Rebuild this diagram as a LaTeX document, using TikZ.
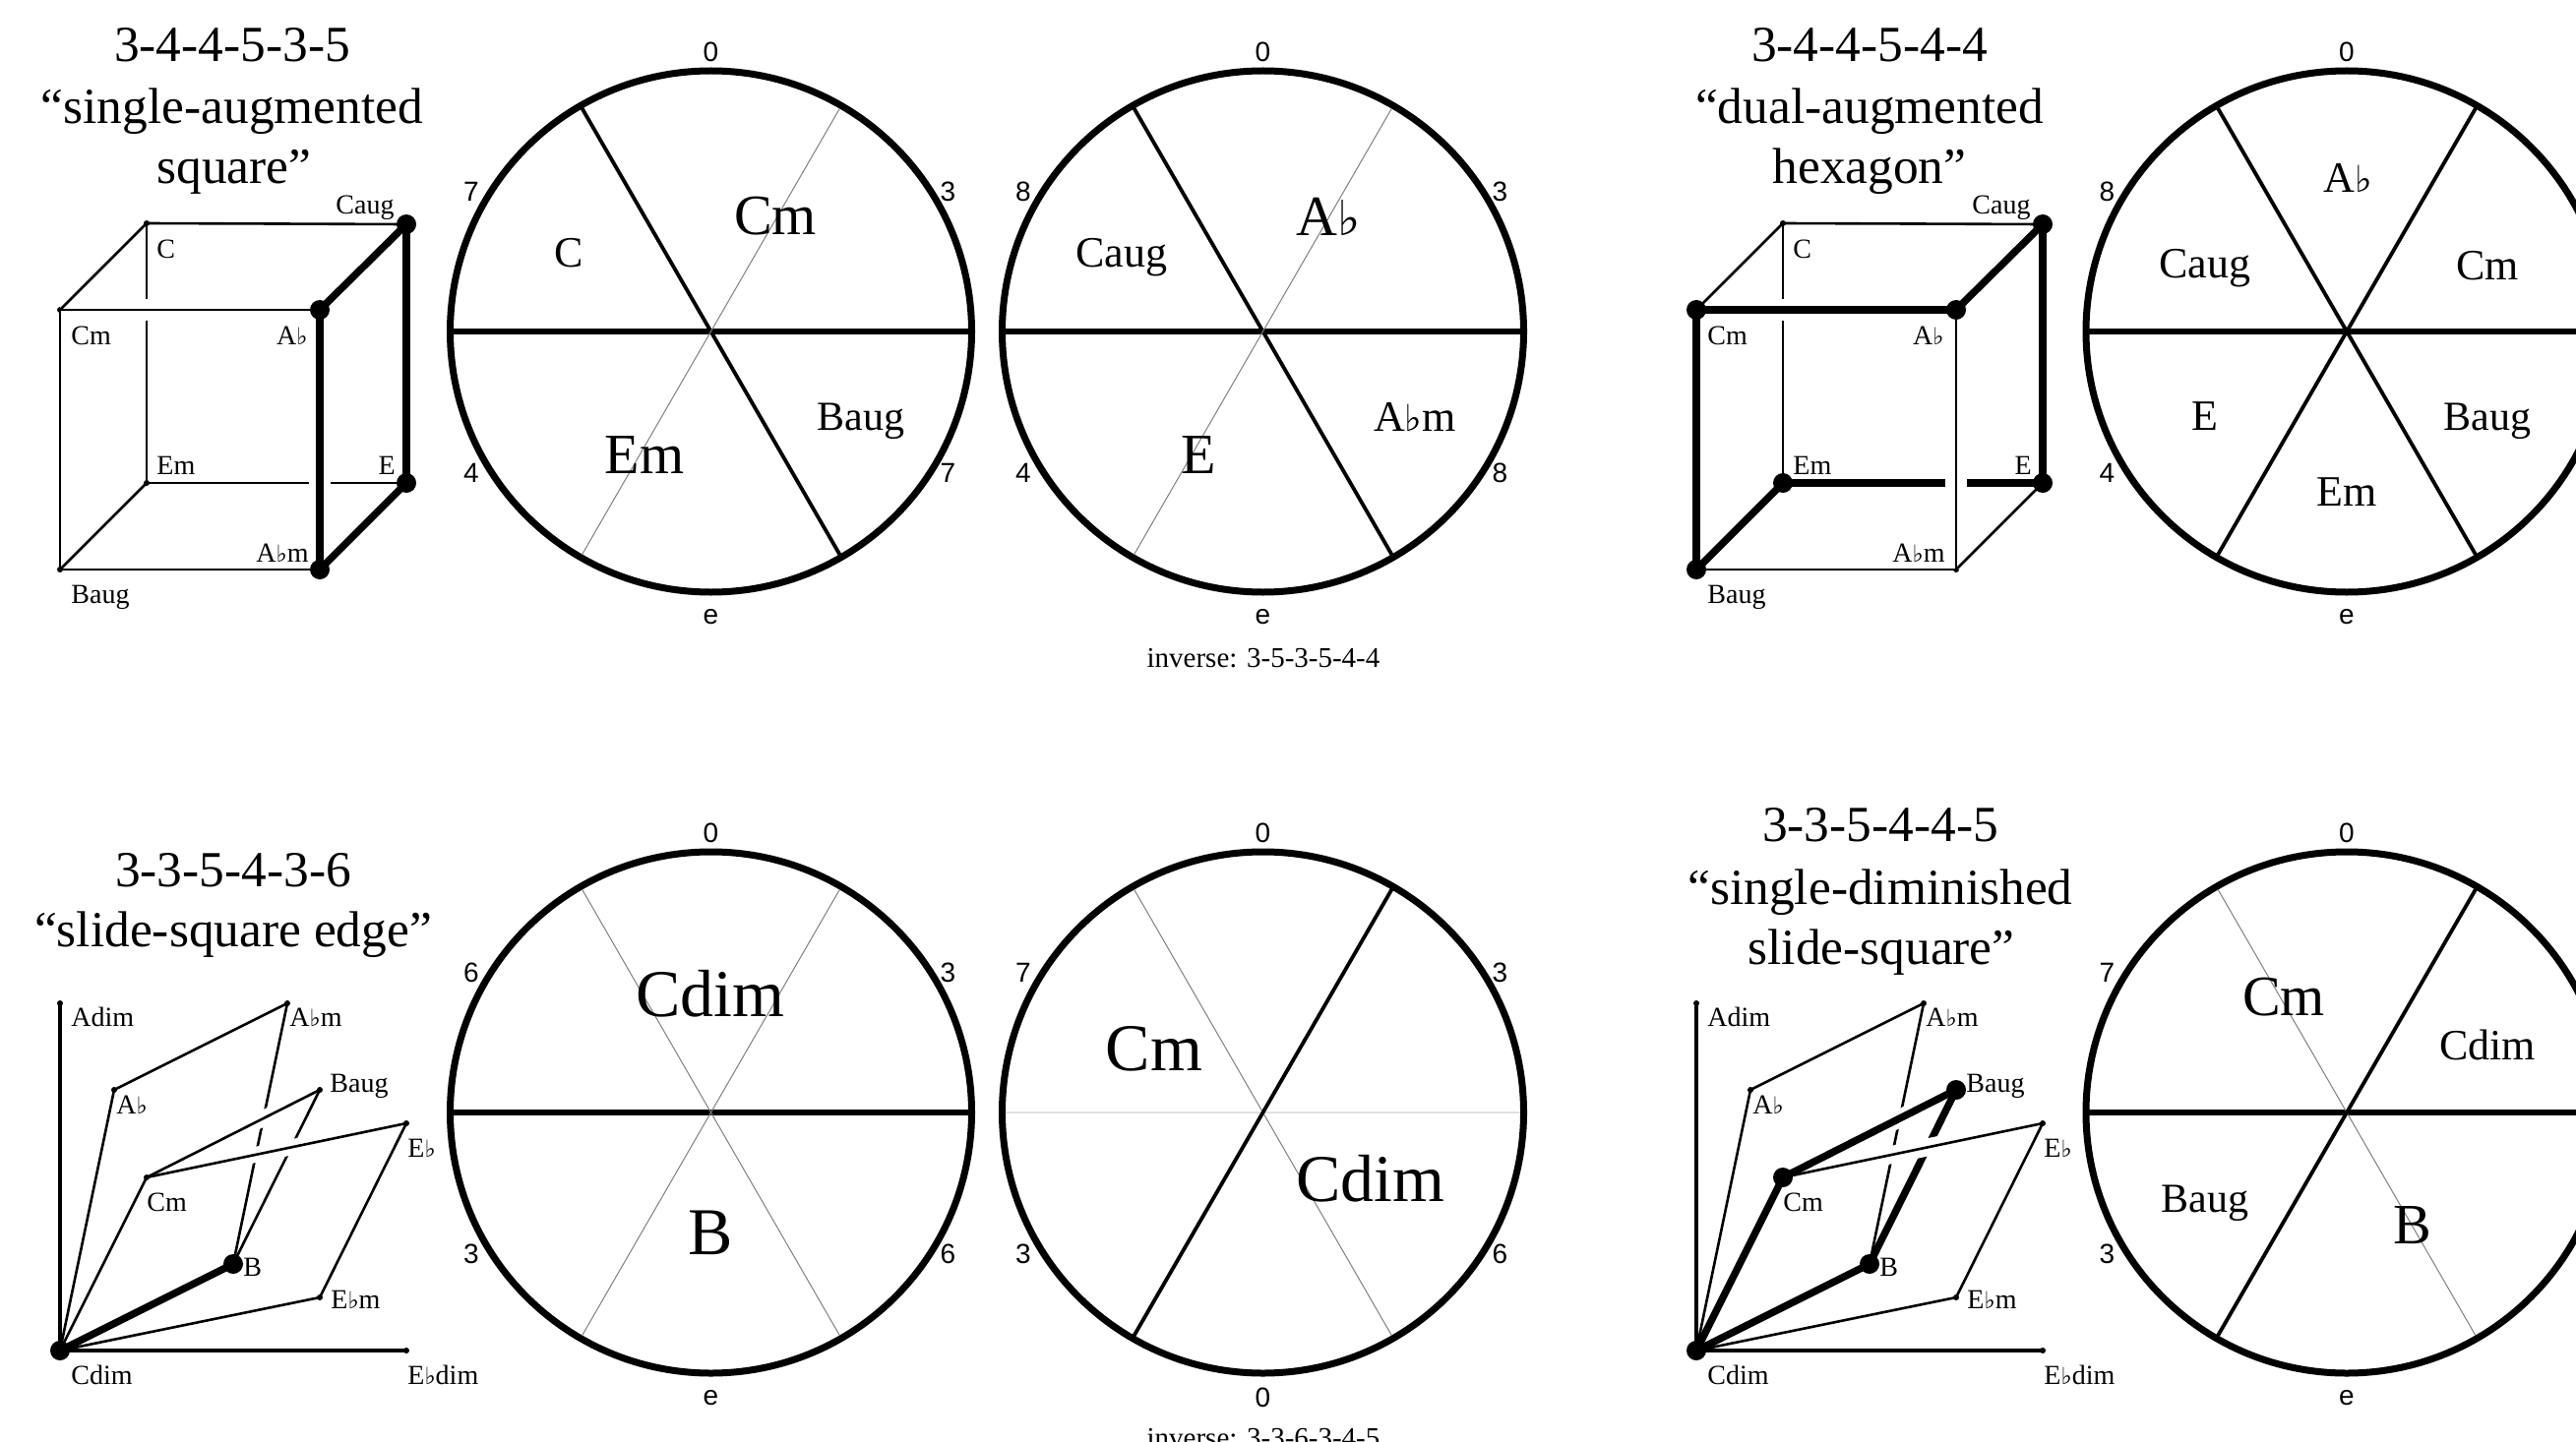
\documentclass[tikz,border=0pt]{standalone}
\usepackage{fontspec}
\setmainfont{Liberation Serif}
\newfontfamily\numf{Liberation Sans}
\newfontfamily\flatf[Scale=0.85]{DejaVu Sans}
\newcommand{\fl}{{\flatf ♭}}
\newcommand{\fsz}[1]{\fontsize{#1}{#1}\selectfont}
\tikzset{
  ringnode/.style={circle,draw=black,line width=3.5pt,minimum size=265pt,inner sep=0pt,outer sep=0pt},
  hair/.style={draw=black!50,line width=0.5pt,shorten <=1.7pt,shorten >=1.7pt},
  pale/.style={draw=black!12,line width=1pt,shorten <=1.7pt,shorten >=1.7pt},
  medchord/.style={draw=black,line width=1.9pt},
  bigchord/.style={draw=black,line width=3pt},
  numlab/.style={font=\numf\fsz{14},inner sep=0pt},
  chS/.style={font=\fsz{22},inner sep=0pt},
  chB/.style={font=\fsz{21},inner sep=0pt},
  chM/.style={font=\fsz{29},inner sep=0pt},
  chL/.style={font=\fsz{34},inner sep=0pt},
  ttl/.style={font=\fsz{25.7},inner sep=0pt,anchor=base,yshift=-0.75pt},
  invlab/.style={font=\fsz{14.5},inner sep=0pt,anchor=base},
  vlabW/.style={font=\fsz{14},inner sep=0pt,anchor=base west,yshift=-0.6pt},
  vlabE/.style={font=\fsz{14},inner sep=0pt,anchor=base east,yshift=-0.6pt},
  smalldot/.style={circle,fill=black,minimum size=3pt,inner sep=0pt,outer sep=0pt},
  bigdot/.style={circle,fill=black,minimum size=10pt,inner sep=0pt,outer sep=0pt},
  thinedge/.style={draw=black,line width=1.3pt},
  midedge/.style={draw=black,line width=1.9pt},
  heavyedge/.style={draw=black,line width=3.7pt},
  halo/.style={draw=white,line width=#1},
}
% ring labels
\newcommand{\ticksL}[5]{%
  \node[numlab] (#1-t) at ([shift={(0,-284)}]#1.center) {#2};
  \node[numlab] (#1-lt) at ([shift={(-243.5,-142)}]#1.center) {#3};
  \node[numlab] (#1-lb) at ([shift={(-243.5,144)}]#1.center) {#4};
  \node[numlab] (#1-b) at ([shift={(0,290)}]#1.center) {#5};
}
\newcommand{\ticksR}[3]{%
  \node[numlab] (#1-rt) at ([shift={(241,-142)}]#1.center) {#2};
  \node[numlab] (#1-rb) at ([shift={(241,144)}]#1.center) {#3};
}
% cube: #1 prefix, #2 x shift
\newcommand{\cubeverts}[2]{%
  \begin{scope}[shift={(#2,0)}]
    \node[smalldot] (#1Caug) at (413,228) {};
    \node[smalldot] (#1C) at (149,227) {};
    \node[smalldot] (#1Cm) at (61,315) {};
    \node[smalldot] (#1Ab) at (325,315) {};
    \node[smalldot] (#1Em) at (149,491) {};
    \node[smalldot] (#1E) at (413,491) {};
    \node[smalldot] (#1Baug) at (61,579) {};
    \node[smalldot] (#1Abm) at (325,579) {};
    \node[font=\fsz{14},inner sep=0pt,anchor=base] (#1lCaug) at (371,218) {Caug};
    \node[vlabW] (#1lC) at (159,261) {C};
    \node[vlabW] (#1lCm) at (72,349) {Cm};
    \node[vlabE] (#1lAb) at (313,349) {A\fl};
    \node[vlabW] (#1lEm) at (159,481) {Em};
    \node[vlabE] (#1lE) at (402,481) {E};
    \node[vlabE] (#1lAbm) at (314,570) {A\fl m};
    \node[vlabW] (#1lBaug) at (72,612) {Baug};
  \end{scope}
}
\newcommand{\slideverts}[2]{%
  \begin{scope}[shift={(#2,0)}]
    \node[smalldot] (#1Adim) at (61,1020) {};
    \node[smalldot] (#1Abm) at (292,1020) {};
    \node[smalldot] (#1Ab) at (116,1108) {};
    \node[smalldot] (#1Baug) at (325,1108) {};
    \node[smalldot] (#1Eb) at (413,1142) {};
    \node[smalldot] (#1Cm) at (149,1197) {};
    \node[smalldot] (#1B) at (237,1285) {};
    \node[smalldot] (#1Ebm) at (325,1319) {};
    \node[smalldot] (#1Cdim) at (61,1373) {};
    \node[smalldot] (#1Ebdim) at (413,1373) {};
    \node[vlabW] (#1lAdim) at (72,1042) {Adim};
    \node[vlabW] (#1lAbm) at (294,1042) {A\fl m};
    \node[vlabW] (#1lAb) at (118,1131) {A\fl};
    \node[vlabW] (#1lBaug) at (335,1109) {Baug};
    \node[vlabW] (#1lEb) at (414,1175) {E\fl};
    \node[vlabW] (#1lCm) at (149,1230) {Cm};
    \node[vlabW] (#1lB) at (247,1296) {B};
    \node[vlabW] (#1lEbm) at (336,1329) {E\fl m};
    \node[vlabW] (#1lCdim) at (72,1406) {Cdim};
    \node[vlabW] (#1lEbdim) at (414,1406) {E\fl dim};
  \end{scope}
}
\begin{document}
\begin{tikzpicture}[x=0.5pt,y=-0.5pt]
\useasboundingbox (0,0) rectangle (2618,1466);
\clip (0,0) rectangle (2618,1466);
\fill[white] (0,0) rectangle (2618,1466);

% ---------- titles
\node[ttl] (t1a) at (236,61) {3-4-4-5-3-5};
\node[ttl] (t1b) at (236,124) {“single-augmented};
\node[ttl] (t1c) at (238,185) {square”};
\node[ttl] (t2a) at (1900,61) {3-4-4-5-4-4};
\node[ttl] (t2b) at (1900,124) {“dual-augmented};
\node[ttl] (t2c) at (1900,185) {hexagon”};
\node[ttl] (t3a) at (237,900) {3-3-5-4-3-6};
\node[ttl] (t3b) at (237,961) {“slide-square edge”};
\node[ttl] (t4a) at (1911,854) {3-3-5-4-4-5};
\node[ttl] (t4b) at (1911,918) {“single-diminished};
\node[ttl] (t4c) at (1912,979) {slide-square”};

% ---------- rings
\node[ringnode] (r1) at (722.5,337) {};
\node[ringnode] (r2) at (1283.5,337) {};
\node[ringnode] (r3) at (2385,337) {};
\node[ringnode] (r4) at (722.5,1131) {};
\node[ringnode] (r5) at (1283.5,1131) {};
\node[ringnode] (r6) at (2385,1131) {};

\draw[bigchord] (r1.180) -- (r1.0);
\draw[medchord] (r1.120) -- (r1.300);
\draw[hair] (r1.60) -- (r1.240);
\draw[bigchord] (r2.180) -- (r2.0);
\draw[medchord] (r2.120) -- (r2.300);
\draw[hair] (r2.60) -- (r2.240);
\draw[bigchord] (r3.180) -- (r3.0);
\draw[medchord] (r3.120) -- (r3.300);
\draw[medchord] (r3.60) -- (r3.240);
\draw[bigchord] (r4.180) -- (r4.0);
\draw[hair] (r4.120) -- (r4.300);
\draw[hair] (r4.60) -- (r4.240);
\draw[pale] (r5.180) -- (r5.0);
\draw[hair] (r5.120) -- (r5.300);
\draw[medchord] (r5.60) -- (r5.240);
\draw[bigchord] (r6.180) -- (r6.0);
\draw[hair] (r6.120) -- (r6.300);
\draw[medchord] (r6.60) -- (r6.240);

\ticksL{r1}{0}{7}{4}{e}\ticksR{r1}{3}{7}
\ticksL{r2}{0}{8}{4}{e}\ticksR{r2}{3}{8}
\ticksL{r3}{0}{8}{4}{e}
\ticksL{r4}{0}{6}{3}{e}\ticksR{r4}{3}{6}
\ticksL{r5}{0}{7}{3}{0}\ticksR{r5}{3}{6}
\ticksL{r6}{0}{7}{3}{e}

% ---------- chord names in rings
\node[chS] (r1C) at (578,257) {C};
\node[chM] (r1Cm) at (788,220) {Cm};
\node[chM] (r1Em) at (655,463) {Em};
\node[chB] (r1Baug) at (875,428) {Baug};

\node[chS] (r2Caug) at (1140,262) {Caug};
\node[chM] (r2Ab) at (1350,220) {A\fl};
\node[chM] (r2E) at (1218,463) {E};
\node[chS] (r2Abm) at (1438,424) {A\fl m};

\node[chS] (r3Ab) at (2386,181) {A\fl};
\node[chS] (r3Caug) at (2241,273) {Caug};
\node[chS] (r3Cm) at (2528,270) {Cm};
\node[chS] (r3E) at (2241,423) {E};
\node[chB] (r3Baug) at (2528,428) {Baug};
\node[chS] (r3Em) at (2385,500) {Em};

\node[chL] (r4Cdim) at (722,1010) {Cdim};
\node[chL] (r4B) at (722,1253) {B};

\node[chL] (r5Cm) at (1173,1066) {Cm};
\node[chL] (r5Cdim) at (1393,1198) {Cdim};

\node[chM] (r6Cm) at (2321,1014) {Cm};
\node[chS] (r6Cdim) at (2528,1062) {Cdim};
\node[chB] (r6Baug) at (2241,1223) {Baug};
\node[chM] (r6B) at (2452,1246) {B};

\node[invlab] (inv1) at (1284,678) {inverse: 3-5-3-5-4-4};
\node[invlab] (inv2) at (1284,1471) {inverse: 3-3-6-3-4-5};

% ---------- cube 1
\cubeverts{a}{0}
\foreach \u/\v in {aC/aCaug,aC/aEm,aEm/aE} \draw[thinedge] (\u.center) -- (\v.center);
\draw[heavyedge] (aCaug.center) -- (aE.center);
\draw[halo=11pt] (aCm.center) -- (aAb.center);
\draw[halo=11pt] (aAb.center) -- (aAbm.center);
\foreach \u/\v in {aCm/aAb,aCm/aBaug,aBaug/aAbm,aCm/aC,aBaug/aEm} \draw[thinedge] (\u.center) -- (\v.center);
\foreach \u/\v in {aAb/aAbm,aAb/aCaug,aAbm/aE} \draw[heavyedge] (\u.center) -- (\v.center);
\foreach \n in {Caug,Ab,E,Abm} \node[bigdot] (a\n big) at (a\n.center) {};

% ---------- cube 2
\cubeverts{b}{1663}
\foreach \u/\v in {bC/bCaug,bC/bEm} \draw[thinedge] (\u.center) -- (\v.center);
\draw[heavyedge] (bCaug.center) -- (bE.center);
\draw[heavyedge] (bEm.center) -- (bE.center);
\draw[halo=11pt] (bCm.center) -- (bAb.center);
\draw[halo=11pt] (bAb.center) -- (bAbm.center);
\foreach \u/\v in {bAb/bAbm,bBaug/bAbm,bAbm/bE,bCm/bC} \draw[thinedge] (\u.center) -- (\v.center);
\foreach \u/\v in {bCm/bAb,bCm/bBaug,bBaug/bEm,bAb/bCaug} \draw[heavyedge] (\u.center) -- (\v.center);
\foreach \n in {Caug,Cm,Ab,Em,E,Baug} \node[bigdot] (b\n big) at (b\n.center) {};

% ---------- slide 1
\slideverts{c}{0}
\foreach \u/\v in {cAbm/cB,cBaug/cB} \draw[thinedge] (\u.center) -- (\v.center);
\draw[halo=8pt,shorten <=40pt,shorten >=20pt] (cCm.center) -- (cBaug.center);
\draw[halo=8pt,shorten <=20pt,shorten >=40pt] (cCm.center) -- (cEb.center);
\foreach \u/\v in {cCdim/cAb,cAb/cAbm,cCdim/cCm,cCm/cBaug,cCm/cEb,cEb/cEbm,cEbm/cCdim} \draw[thinedge] (\u.center) -- (\v.center);
\foreach \u/\v in {cCdim/cAdim,cCdim/cEbdim} \draw[midedge] (\u.center) -- (\v.center);
\draw[heavyedge] (cCdim.center) -- (cB.center);
\foreach \n in {Cdim,B} \node[bigdot] (c\n big) at (c\n.center) {};

% ---------- slide 2
\slideverts{d}{1663}
\draw[thinedge] (dAbm.center) -- (dB.center);
\draw[heavyedge] (dBaug.center) -- (dB.center);
\draw[halo=9pt,shorten <=40pt,shorten >=20pt] (dCm.center) -- (dBaug.center);
\draw[halo=9pt,shorten <=20pt,shorten >=40pt] (dCm.center) -- (dEb.center);
\foreach \u/\v in {dCdim/dAb,dAb/dAbm,dCm/dEb,dEb/dEbm,dEbm/dCdim} \draw[thinedge] (\u.center) -- (\v.center);
\foreach \u/\v in {dCdim/dAdim,dCdim/dEbdim} \draw[midedge] (\u.center) -- (\v.center);
\foreach \u/\v in {dCdim/dCm,dCm/dBaug,dCdim/dB} \draw[heavyedge] (\u.center) -- (\v.center);
\foreach \n in {Cdim,Cm,Baug,B} \node[bigdot] (d\n big) at (d\n.center) {};
\end{tikzpicture}
\end{document}
